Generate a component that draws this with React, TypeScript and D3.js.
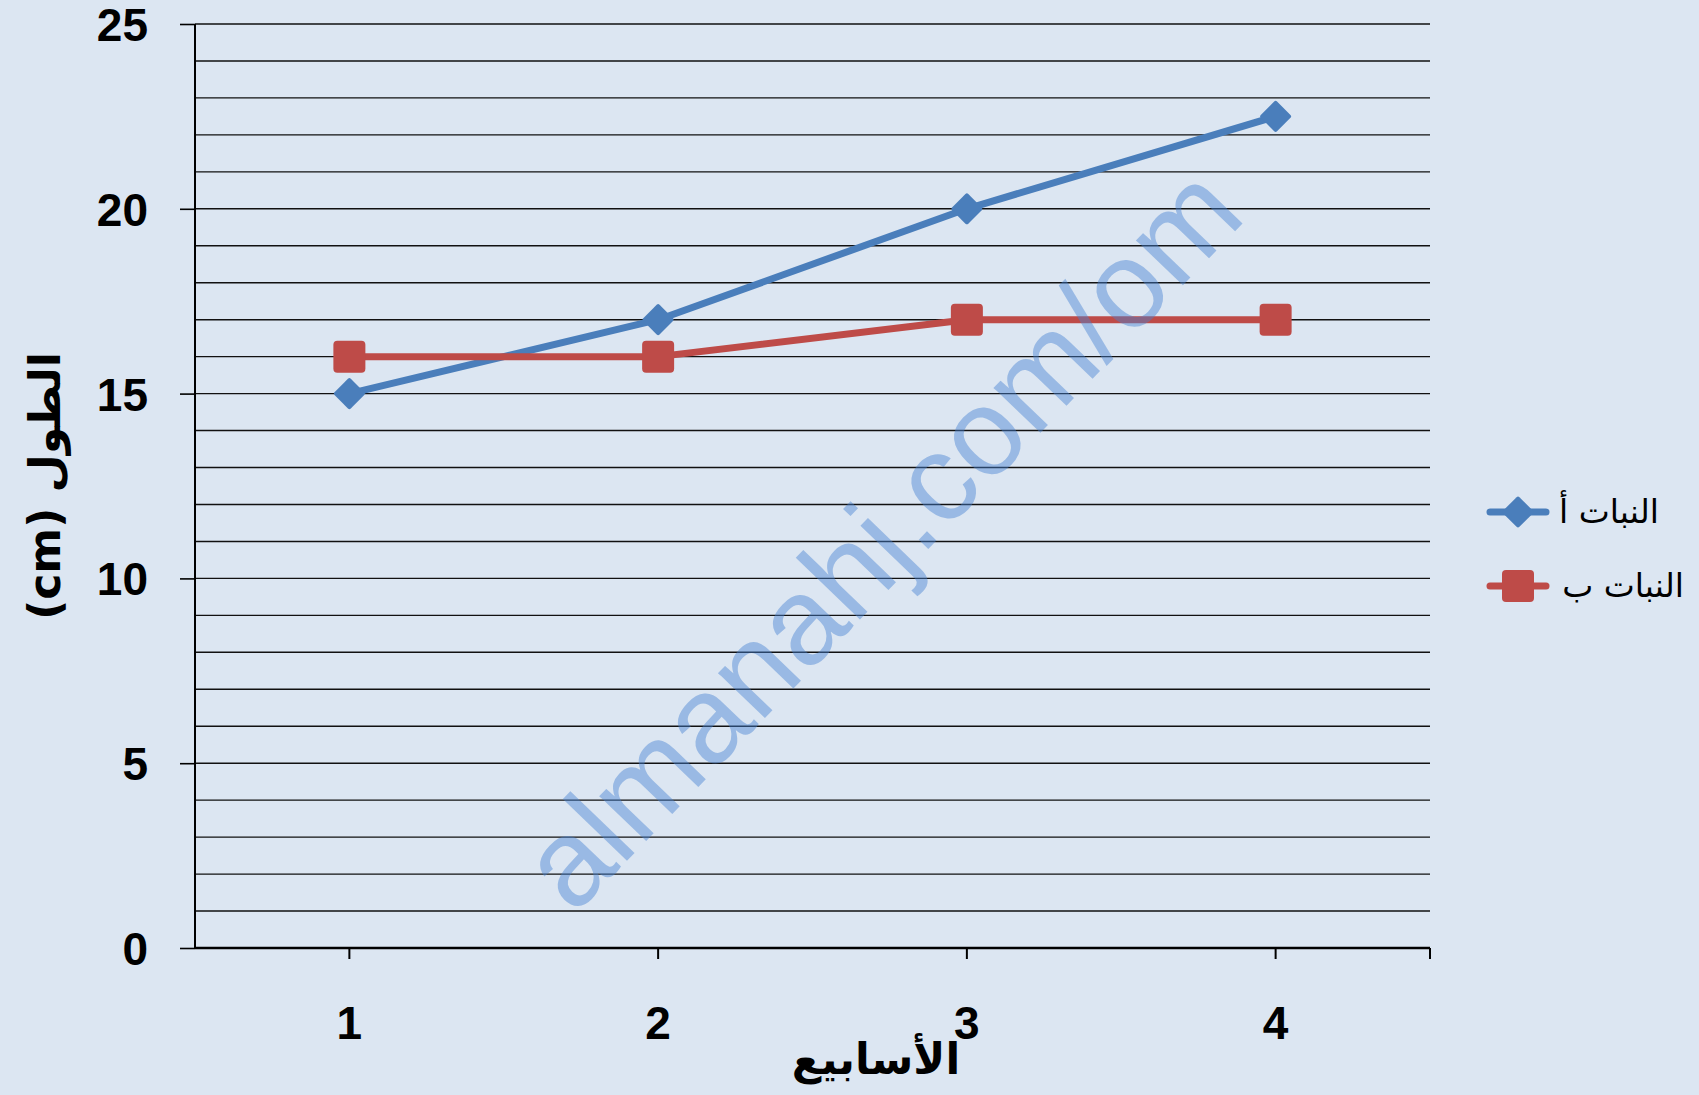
import React, { useEffect, useRef } from "react";
import * as d3 from "d3";

// chart data
const weeks = ["1", "2", "3", "4"];
const plantA = [15, 17, 20, 22.5];
const plantB = [16, 16, 17, 17];
const seriesNames = ["النبات أ", "النبات ب"];
const yTicks = [0, 5, 10, 15, 20, 25];

const W = 1699, H = 1095;

export default function App() {
  const ref = useRef<SVGSVGElement | null>(null);

  useEffect(() => {
    const svg = d3.select(ref.current);
    svg.selectAll("*").remove();

    const left = 195, right = 1430, top = 24, bottom = 948;

    const x = d3.scaleBand<string>().domain(weeks).range([left, right]);
    const cx = (d: string) => (x(d) as number) + x.bandwidth() / 2;
    const y = d3.scaleLinear().domain([0, 25]).range([bottom, top]);

    svg.append("rect").attr("width", W).attr("height", H).attr("fill", "#dce6f2");

    // horizontal gridlines, one per unit
    svg.append("g")
      .selectAll("line")
      .data(d3.range(1, 26))
      .join("line")
      .attr("x1", left)
      .attr("x2", right)
      .attr("y1", d => y(d))
      .attr("y2", d => y(d))
      .attr("stroke", "#111")
      .attr("stroke-width", 1.4);

    // y axis
    const yAxis = svg.append("g").attr("transform", `translate(${left},0)`)
      .call(d3.axisLeft(y).tickValues(yTicks).tickSize(15).tickPadding(32).tickFormat(d3.format("d")));
    yAxis.select(".domain").attr("stroke", "#000").attr("stroke-width", 2).attr("d", `M0,${top}V${bottom}`);
    yAxis.selectAll(".tick line").attr("stroke", "#000").attr("stroke-width", 1.6);
    yAxis.selectAll(".tick text")
      .attr("font-family", "Liberation Sans, Arial, sans-serif")
      .attr("font-weight", "bold")
      .attr("font-size", 46)
      .attr("dy", "0.36em")
      .attr("fill", "#000");

    // x axis
    const xAxis = svg.append("g").attr("transform", `translate(0,${bottom})`)
      .call(d3.axisBottom(x).tickSize(0).tickPadding(0));
    xAxis.select(".domain").attr("stroke", "#000").attr("stroke-width", 2.5).attr("d", `M${left},0H${right}`);
    xAxis.selectAll(".tick text").remove();
    svg.append("g")
      .selectAll("line")
      .data([...weeks.map(cx), right])
      .join("line")
      .attr("x1", d => d).attr("x2", d => d)
      .attr("y1", bottom).attr("y2", bottom + 11)
      .attr("stroke", "#000").attr("stroke-width", 2);
    svg.append("g")
      .selectAll("text")
      .data(weeks)
      .join("text")
      .attr("x", d => cx(d))
      .attr("y", 1039)
      .attr("text-anchor", "middle")
      .attr("font-family", "Liberation Sans, Arial, sans-serif")
      .attr("font-weight", "bold")
      .attr("font-size", 46)
      .text(d => d);

    // axis titles
    svg.append("text")
      .attr("x", 876)
      .attr("y", 1074)
      .attr("text-anchor", "middle")
      .attr("font-family", "DejaVu Sans, sans-serif")
      .attr("font-weight", "bold")
      .attr("font-size", 43)
      .text("الأسابيع");

    svg.append("text")
      .attr("transform", "translate(60,486) rotate(-90)")
      .attr("text-anchor", "middle")
      .attr("font-family", "DejaVu Sans, sans-serif")
      .attr("font-weight", "bold")
      .attr("font-size", 44)
      .text("(cm) الطول");

    // series
    const colors = ["#4a7ebb", "#be4b48"];
    const data = [plantA, plantB];
    const line = d3.line<number>().x((d, i) => cx(weeks[i])).y(d => y(d));

    data.forEach((vals, si) => {
      svg.append("path")
        .attr("d", line(vals))
        .attr("fill", "none")
        .attr("stroke", colors[si])
        .attr("stroke-width", 7)
        .attr("stroke-linejoin", "round");
    });

    const diamond = (g: any, px: number, py: number) =>
      g.append("rect")
        .attr("x", -11.5).attr("y", -11.5).attr("width", 23).attr("height", 23).attr("rx", 2)
        .attr("transform", `translate(${px},${py}) rotate(45)`)
        .attr("fill", colors[0]);
    const square = (g: any, px: number, py: number) =>
      g.append("rect")
        .attr("x", px - 16).attr("y", py - 16).attr("width", 32).attr("height", 32).attr("rx", 4)
        .attr("fill", colors[1]);

    const marks = svg.append("g");
    plantA.forEach((v, i) => diamond(marks, cx(weeks[i]), y(v)));
    plantB.forEach((v, i) => square(marks, cx(weeks[i]), y(v)));

    // legend
    const legY = [512, 586];
    const leg = svg.append("g");
    legY.forEach((ly, i) => {
      leg.append("line")
        .attr("x1", 1490).attr("x2", 1546).attr("y1", ly).attr("y2", ly)
        .attr("stroke", colors[i]).attr("stroke-width", 7).attr("stroke-linecap", "round");
      if (i === 0) diamond(leg, 1518, ly);
      else square(leg, 1518, ly);
      leg.append("text")
        .attr("x", i === 0 ? 1659 : 1684)
        .attr("y", ly + 11)
        .attr("text-anchor", "end")
        .attr("font-family", "DejaVu Sans, sans-serif")
        .attr("font-size", 33)
        .text(seriesNames[i]);
    });

    // watermark
    svg.append("text")
      .attr("transform", "translate(880,537) rotate(-46)")
      .attr("text-anchor", "middle")
      .attr("dy", "0.35em")
      .attr("font-family", "Liberation Sans, Arial, sans-serif")
      .attr("font-size", 123)
      .attr("fill", "#4682d2")
      .attr("fill-opacity", 0.45)
      .text("almanahj.com/om");
  }, []);

  return (
    <div style={{ position: "absolute", left: 0, top: 0 }}>
      <svg ref={ref} width={W} height={H} style={{ display: "block" }} />
    </div>
  );
}
